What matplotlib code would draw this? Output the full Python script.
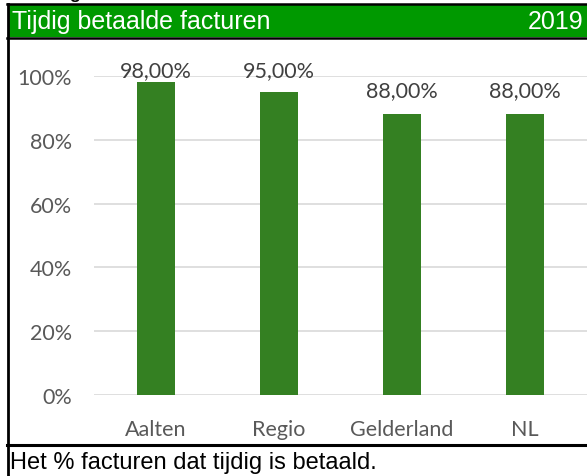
import matplotlib
matplotlib.use("Agg")
import matplotlib.pyplot as plt
from matplotlib.lines import Line2D
from matplotlib.patches import Rectangle

categories = ["Aalten", "Regio", "Gelderland", "NL"]
values = [0.98, 0.95, 0.88, 0.88]
value_labels = ["98,00%", "95,00%", "88,00%", "88,00%"]
yticks = [0, 0.2, 0.4, 0.6, 0.8, 1.0]
ytick_labels = ["0%", "20%", "40%", "60%", "80%", "100%"]
heading = "Betaling"
title = "Tijdig betaalde facturen"
year = "2019"
footer = "Het % facturen dat tijdig is betaald."

W, H = 587, 477
fig = plt.figure(figsize=(W / 100, H / 100), dpi=100)

def fx(px):
    return px / W

def fy(py):
    return 1 - py / H

# header band
fig.patches.append(Rectangle((fx(8), fy(38)), fx(W - 8), (38 - 6) / H,
                             transform=fig.transFigure, facecolor="#009900",
                             edgecolor="none", zorder=1))
# frame lines
fig.lines.append(Line2D([fx(7), 1], [fy(5), fy(5)], transform=fig.transFigure,
                        color="black", lw=1.8, zorder=3))
fig.lines.append(Line2D([fx(7), 1], [fy(38.5), fy(38.5)], transform=fig.transFigure,
                        color="black", lw=1.8, zorder=3))
fig.lines.append(Line2D([fx(7.5), fx(7.5)], [0, fy(5)], transform=fig.transFigure,
                        color="black", lw=2, zorder=3))
fig.lines.append(Line2D([fx(7), 1], [fy(446), fy(446)], transform=fig.transFigure,
                        color="black", lw=2.2, zorder=3))

# partially visible heading above the frame (only its descender shows)
fig.text(fx(13), fy(-0.5), heading, fontsize=12.5, fontweight="bold",
         family="Liberation Sans", color="black", va="baseline", ha="left")

fig.text(fx(12), fy(22), title, fontsize=18, family="Liberation Sans",
         color="white", va="center", ha="left", zorder=4)
fig.text(fx(583), fy(22), year, fontsize=18, family="Liberation Sans",
         color="white", va="center", ha="right", zorder=4)
fig.text(fx(10), fy(463), footer, fontsize=17, family="Liberation Sans",
         color="black", va="center", ha="left")

ax = fig.add_axes([fx(94.5), fy(396), fx(586.5 - 94.5), (396 - 77) / H])
x = list(range(len(categories)))
ax.bar(x, values, width=0.31, color="#348022", zorder=2)
ax.set_xlim(-0.5, len(categories) - 0.5)
ax.set_ylim(0, 1.0)
ax.set_yticks(yticks)
ax.set_yticklabels(ytick_labels)
ax.set_xticks(x)
ax.set_xticklabels(categories)
ax.grid(axis="y", color="#D9D9D9", lw=1.2, zorder=0)
ax.set_axisbelow(True)
for s in ax.spines.values():
    s.set_visible(False)
ax.tick_params(axis="both", length=0, labelcolor="#595959", labelsize=15.5)
ax.tick_params(axis="y", pad=16)
ax.tick_params(axis="x", pad=17)
for lab in ax.get_xticklabels() + ax.get_yticklabels():
    lab.set_family("Lato")

for xi, v, lab in zip(x, values, value_labels):
    ax.text(xi, min(v + 0.057, 1.0), lab, ha="center", va="baseline",
            fontsize=15.5, color="#404040", family="Lato", clip_on=False)

fig.savefig("out.png", dpi=100)
